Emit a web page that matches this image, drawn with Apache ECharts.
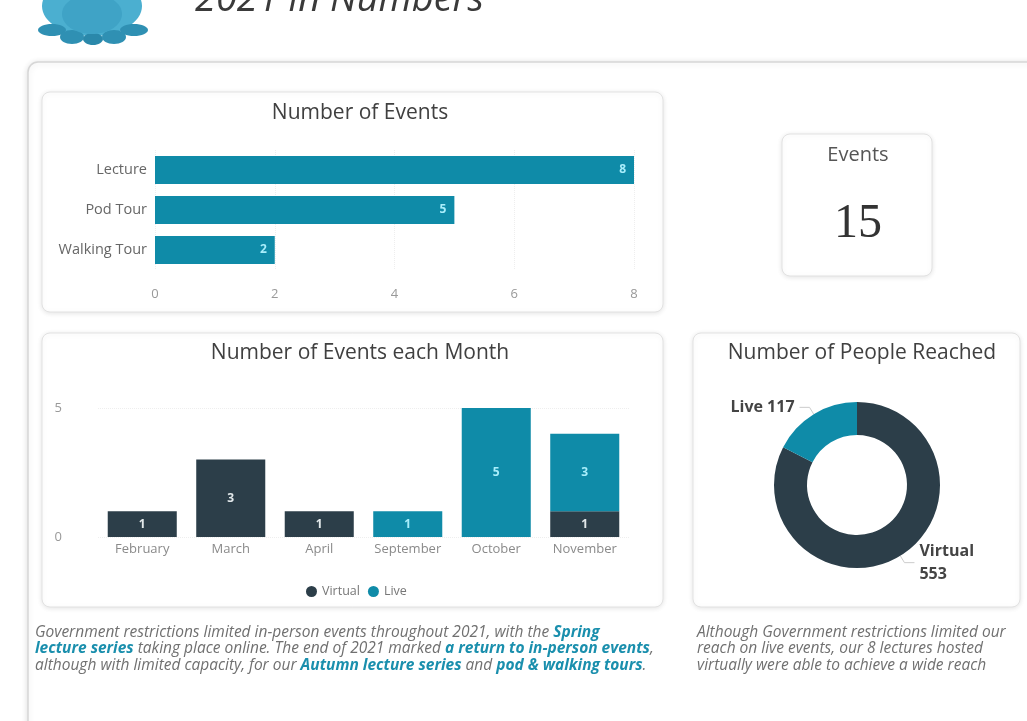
<!DOCTYPE html>
<html>
<head>
<meta charset="utf-8">
<script src="https://cdn.jsdelivr.net/npm/echarts@6/dist/echarts.min.js"></script>
<style>
html,body{margin:0;padding:0;background:#ffffff;}
#c{width:1027px;height:721px;}
</style>
</head>
<body>
<div id="c"></div>
<script>
// ---- data ----
var eventTypes = ['Lecture', 'Pod Tour', 'Walking Tour'];
var eventTypeCounts = [8, 5, 2];
var eventTicks = [0, 2, 4, 6, 8];

var months = ['February', 'March', 'April', 'September', 'October', 'November'];
var virtualByMonth = [1, 3, 1, null, null, 1];
var liveByMonth = [null, null, null, 1, 5, 3];

var reachNames = ['Virtual', 'Live'];
var reachValues = [553, 117];

var totalEvents = 15;

var TEAL = '#0F8BA8';
var DARK = '#2C3E49';
var FONT = '"Open Sans", sans-serif';

var chart = echarts.init(document.getElementById('c'), null, {renderer: 'canvas'});

function card(x, y, w, h) {
  return {
    type: 'rect', z: -10,
    shape: {x: x, y: y, width: w, height: h, r: 8},
    style: {fill: '#ffffff', stroke: '#e2e2e2', lineWidth: 1,
            shadowBlur: 5, shadowColor: 'rgba(0,0,0,0.10)', shadowOffsetY: 1}
  };
}

var richStyles = {
  n: {fontFamily: FONT, fontStyle: 'italic', fontSize: 15.5, fill: '#707070', lineHeight: 16.5},
  b: {fontFamily: FONT, fontStyle: 'italic', fontWeight: 'bold', fontSize: 15.5, fill: '#1A8FAD', lineHeight: 16.5}
};

var titleStyle = {fontSize: 21, fontWeight: 'normal', color: '#404040', fontFamily: FONT};

var option = {
  backgroundColor: '#ffffff',
  animation: false,
  textStyle: {fontFamily: FONT},
  title: [
    {text: 'Number of Events', left: 355, top: 98, textAlign: 'center', textStyle: titleStyle},
    {text: 'Number of Events each Month', left: 355, top: 338, textAlign: 'center', textStyle: titleStyle},
    {text: 'Number of People Reached', left: 857, top: 338, textAlign: 'center', textStyle: titleStyle}
  ],
  legend: {
    data: [{name: 'Virtual'}, {name: 'Live'}],
    left: 301, top: 580,
    icon: 'circle', itemWidth: 11, itemHeight: 11, itemGap: 8,
    textStyle: {fontSize: 12.5, color: '#777', fontFamily: FONT}
  },
  graphic: [
    // outer panel
    {type: 'rect', z: -20, shape: {x: 28, y: 62, width: 1040, height: 720, r: 10},
     style: {fill: '#ffffff', stroke: '#d6d6d6', lineWidth: 1.5,
             shadowBlur: 6, shadowColor: 'rgba(0,0,0,0.12)', shadowOffsetY: 1}},
    card(42, 92, 621, 220),
    card(782, 134, 150, 142),
    card(42, 333, 621, 274),
    card(693, 333, 327, 274),
    // logo
    {type: 'ellipse', z: -5, shape: {cx: 92, cy: 6, rx: 50, ry: 30},
     style: {fill: '#4BAFD0'}},
    {type: 'ellipse', z: -4, shape: {cx: 92, cy: 14, rx: 30, ry: 20},
     style: {fill: '#3FA3C6'}},
    {type: 'ellipse', z: -5, shape: {cx: 52, cy: 30, rx: 14, ry: 6}, style: {fill: '#2F90B3'}},
    {type: 'ellipse', z: -5, shape: {cx: 72, cy: 37, rx: 12, ry: 7}, style: {fill: '#2F90B3'}},
    {type: 'ellipse', z: -5, shape: {cx: 93, cy: 39, rx: 10, ry: 6}, style: {fill: '#2A88AA'}},
    {type: 'ellipse', z: -5, shape: {cx: 114, cy: 37, rx: 12, ry: 7}, style: {fill: '#2F90B3'}},
    {type: 'ellipse', z: -5, shape: {cx: 134, cy: 30, rx: 14, ry: 6}, style: {fill: '#2F90B3'}},
    // header title
    {type: 'text', x: 195, y: 0,
     style: {text: '2021 in Numbers', fontFamily: FONT, fontStyle: 'italic', fontSize: 38,
             fill: '#3a3a3a', verticalAlign: 'middle', align: 'left'}},
    // KPI card
    {type: 'text', x: 858, y: 155,
     style: {text: 'Events', fontFamily: FONT, fontSize: 20, fill: '#555',
             align: 'center', verticalAlign: 'middle'}},
    {type: 'text', x: 858, y: 224,
     style: {text: String(totalEvents), fontFamily: '"Liberation Serif", serif', fontSize: 48, fill: '#333',
             align: 'center', verticalAlign: 'middle'}},
    // bottom texts
    {type: 'text', x: 35, y: 624,
     style: {
       text: '{n|Government restrictions limited in-person events throughout 2021, with the }{b|Spring}\n' +
             '{b|lecture series}{n| taking place online. The end of 2021 marked }{b|a return to in-person events}{n|,}\n' +
             '{n|although with limited capacity, for our }{b|Autumn lecture series}{n| and }{b|pod & walking tours}{n|.}',
       rich: richStyles, align: 'left', verticalAlign: 'top'}},
    {type: 'text', x: 697, y: 624,
     style: {
       text: '{n|Although Government restrictions limited our}\n' +
             '{n|reach on live events, our 8 lectures hosted}\n' +
             '{n|virtually were able to achieve a wide reach}',
       rich: richStyles, align: 'left', verticalAlign: 'top'}}
  ],
  grid: [
    {left: 155, right: 393, top: 150, height: 120, containLabel: false},
    {left: 98, right: 398, top: 408, height: 129, containLabel: false}
  ],
  xAxis: [
    {type: 'value', gridIndex: 0, min: eventTicks[0], max: eventTicks[eventTicks.length - 1], interval: 2,
     axisLine: {show: false}, axisTick: {show: false},
     axisLabel: {color: '#999', fontSize: 13, margin: 18},
     splitLine: {show: true, lineStyle: {color: '#eeeeee', type: 'dotted'}}},
    {type: 'category', gridIndex: 1, data: months,
     axisLine: {show: false}, axisTick: {show: false},
     axisLabel: {color: '#8a8a8a', fontSize: 13, margin: 6, interval: 0, hideOverlap: false}}
  ],
  yAxis: [
    {type: 'category', gridIndex: 0, data: eventTypes, inverse: true,
     axisLine: {show: false}, axisTick: {show: false},
     axisLabel: {color: '#666', fontSize: 14.5, margin: 8}},
    {type: 'value', gridIndex: 1, min: 0, max: 5, interval: 5,
     axisLine: {show: false}, axisTick: {show: false},
     axisLabel: {color: '#999', fontSize: 13, margin: 36},
     splitLine: {show: true, lineStyle: {color: '#eeeeee', type: 'dotted'}}}
  ],
  series: [
    {type: 'bar', name: 'Event Type', xAxisIndex: 0, yAxisIndex: 0, data: eventTypeCounts,
     barCategoryGap: '30%', itemStyle: {color: TEAL},
     label: {show: true, position: 'insideRight', distance: 8, color: '#A9EEFB',
             fontSize: 12, fontWeight: 'bold'}},
    {type: 'bar', name: 'Virtual', xAxisIndex: 1, yAxisIndex: 1, stack: 'm', data: virtualByMonth,
     barCategoryGap: '22%', itemStyle: {color: DARK},
     label: {show: true, position: 'inside', color: '#E2E8EA', fontSize: 12, fontWeight: 'bold'}},
    {type: 'bar', name: 'Live', xAxisIndex: 1, yAxisIndex: 1, stack: 'm', data: liveByMonth,
     barCategoryGap: '22%', itemStyle: {color: TEAL},
     label: {show: true, position: 'inside', color: '#A9EEFB', fontSize: 12, fontWeight: 'bold'}},
    {type: 'pie', name: 'Reach', center: [857, 485], radius: [50, 83],
     startAngle: 90, clockwise: true, avoidLabelOverlap: false,
     data: reachNames.map(function (n, i) {
       return {name: n, value: reachValues[i],
               itemStyle: {color: n === 'Live' ? TEAL : DARK},
               label: {formatter: n === 'Live' ? '{b} {c}' : '{b}\n{c}'}};
     }),
     label: {show: true, position: 'outside', color: '#444', fontSize: 16, fontWeight: 'bold',
             fontFamily: FONT, lineHeight: 23, alignTo: 'none'},
     labelLine: {show: true, length: 8, length2: 10, lineStyle: {color: '#cccccc', width: 1}}}
  ]
};
chart.setOption(option);
</script>
</body>
</html>
